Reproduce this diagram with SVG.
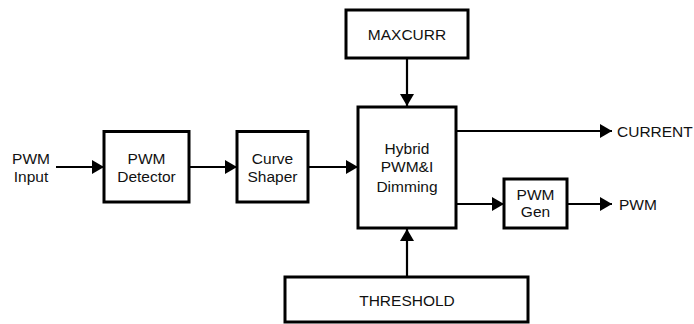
<svg xmlns="http://www.w3.org/2000/svg" width="694" height="324" viewBox="0 0 694 324">
<defs>
<style>
.box{fill:#fff;stroke:#000;stroke-width:3}
.ln{fill:none;stroke:#000;stroke-width:2.2}
text{font-family:"Liberation Sans",Arial,sans-serif;font-size:15.5px;fill:#111}
.c{text-anchor:middle}
</style>
<marker id="ah" markerUnits="userSpaceOnUse" markerWidth="14" markerHeight="16" refX="12" refY="7" orient="auto">
<path d="M0,0 L12,7 L0,14 Z" fill="#000"/>
</marker>
</defs>
<rect width="694" height="324" fill="#fff"/>
<g id="connectors">
<line class="ln" x1="56" y1="167" x2="104" y2="167" marker-end="url(#ah)"/>
<line class="ln" x1="189" y1="167" x2="237" y2="167" marker-end="url(#ah)"/>
<line class="ln" x1="308" y1="167" x2="358" y2="167" marker-end="url(#ah)"/>
<line class="ln" x1="407" y1="58" x2="407" y2="106" marker-end="url(#ah)"/>
<line class="ln" x1="407" y1="277" x2="407" y2="229" marker-end="url(#ah)"/>
<line class="ln" x1="456" y1="131" x2="612" y2="131" marker-end="url(#ah)"/>
<line class="ln" x1="456" y1="204" x2="504" y2="204" marker-end="url(#ah)"/>
<line class="ln" x1="567" y1="204" x2="612" y2="204" marker-end="url(#ah)"/>
</g>
<g id="pwm-input">
<text class="c" x="31" y="163.5">PWM</text>
<text class="c" x="31" y="182">Input</text>
</g>
<g id="pwm-detector">
<rect class="box" x="104" y="131.5" width="85" height="70.5"/>
<text class="c" x="146.5" y="163.5">PWM</text>
<text class="c" x="146.5" y="182">Detector</text>
</g>
<g id="curve-shaper">
<rect class="box" x="237" y="131.5" width="71" height="70.5"/>
<text class="c" x="272.5" y="163.5">Curve</text>
<text class="c" x="272.5" y="182">Shaper</text>
</g>
<g id="maxcurr">
<rect class="box" x="346" y="10" width="122" height="48"/>
<text class="c" x="407" y="39.5">MAXCURR</text>
</g>
<g id="hybrid">
<rect class="box" x="358" y="107" width="98" height="121"/>
<text class="c" x="407" y="153.5">Hybrid</text>
<text class="c" x="407" y="172">PWM&amp;I</text>
<text class="c" x="407" y="191.5">Dimming</text>
</g>
<g id="pwm-gen">
<rect class="box" x="504" y="179" width="63" height="49"/>
<text class="c" x="535.5" y="200">PWM</text>
<text class="c" x="535.5" y="217">Gen</text>
</g>
<g id="threshold">
<rect class="box" x="285" y="277" width="243" height="45"/>
<text class="c" x="407" y="306">THRESHOLD</text>
</g>
<g id="current-out">
<text x="617" y="136.5">CURRENT</text>
</g>
<g id="pwm-out">
<text x="619" y="209.5">PWM</text>
</g>
</svg>
